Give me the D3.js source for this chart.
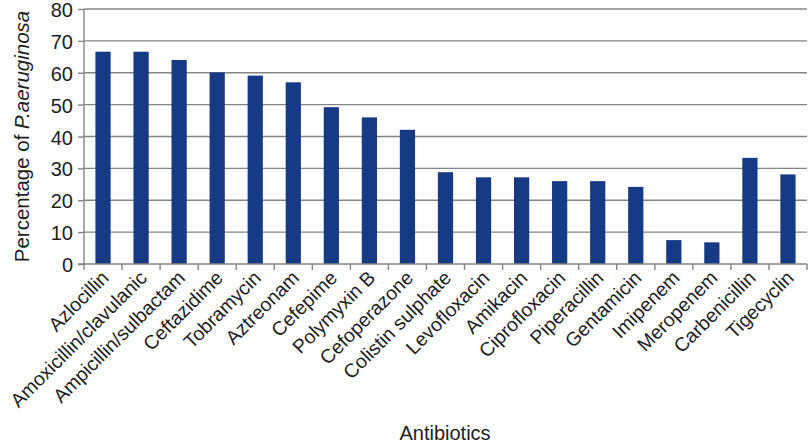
<!DOCTYPE html>
<html><head><meta charset="utf-8">
<script src="https://cdn.jsdelivr.net/npm/d3@7"></script>
<style>body{margin:0;background:#fff}svg{display:block}</style>
</head><body>
<script>
const categories = ["Azlocillin","Amoxicillin/clavulanic","Ampicillin/sulbactam","Ceftazidime","Tobramycin","Aztreonam","Cefepime","Polymyxin B","Cefoperazone","Colistin sulphate","Levofloxacin","Amikacin","Ciprofloxacin","Piperacillin","Gentamicin","Imipenem","Meropenem","Carbenicillin","Tigecyclin"];
const values = [66.6,66.6,64.0,60.1,59.1,57.0,49.2,46.0,42.1,28.8,27.2,27.2,26.0,26.0,24.2,7.5,6.8,33.3,28.1];
const yTicks = [0,10,20,30,40,50,60,70,80];

const W = 810, H = 446;
const m = {left:84, right:3, top:9, bottom:182};
const svg = d3.select("body").append("svg").attr("width",W).attr("height",H);
const x = d3.scaleBand().domain(categories).range([m.left, W-m.right]).paddingInner(0.6).paddingOuter(0.3);
const y = d3.scaleLinear().domain([0,80]).range([H-m.bottom, m.top]);
const font = "'Liberation Sans', Arial, sans-serif";
const ink = "#1e1e1e";
const gridC = "#858585";

// gridlines
svg.append("g").selectAll("line").data(yTicks.slice(1)).join("line")
  .attr("x1", m.left).attr("x2", W-m.right)
  .attr("y1", d=>y(d)).attr("y2", d=>y(d))
  .attr("stroke",gridC).attr("stroke-width",1.4);

// bars
svg.append("g").selectAll("rect").data(values).join("rect")
  .attr("x",(d,i)=>x(categories[i]))
  .attr("width", x.bandwidth())
  .attr("y", d=>y(d))
  .attr("height", d=>y(0)-y(d))
  .attr("fill","#173a85");

// y axis
const ya = svg.append("g").attr("transform",`translate(${m.left},0)`)
  .call(d3.axisLeft(y).tickValues(yTicks).tickSize(6).tickPadding(5));
ya.selectAll("path,line").attr("stroke",gridC).attr("stroke-width",1.4);
ya.select(".domain").attr("d", `M0,${y(80)}V${y(0)}`);
ya.selectAll("text").attr("font-family",font).attr("font-size",20).attr("fill",ink).attr("dy","0.38em");

// x axis
const step = x.step();
const bounds = d3.range(categories.length+1).map(i=>m.left + i*step);
svg.append("line").attr("x1",m.left-6).attr("x2",W-m.right).attr("y1",y(0)).attr("y2",y(0))
  .attr("stroke",gridC).attr("stroke-width",1.4);
svg.append("g").selectAll("line").data(bounds).join("line")
  .attr("x1",d=>d).attr("x2",d=>d).attr("y1",y(0)).attr("y2",y(0)+6)
  .attr("stroke",gridC).attr("stroke-width",1.4);

svg.append("g").selectAll("text").data(categories).join("text")
  .attr("transform", d=>`translate(${x(d)+x.bandwidth()/2+7},${y(0)+15}) rotate(-45)`)
  .attr("text-anchor","end")
  .attr("font-family",font).attr("font-size",19.5).attr("fill",ink)
  .text(d=>d);

// axis titles
const yt = svg.append("text")
  .attr("transform",`translate(29,${(y(0)+y(80))/2}) rotate(-90)`)
  .attr("text-anchor","middle").attr("font-family",font).attr("font-size",20.5).attr("fill",ink);
yt.append("tspan").text("Percentage of ");
yt.append("tspan").attr("font-style","italic").text("P.aeruginosa");

svg.append("text").attr("x",445).attr("y",440).attr("text-anchor","middle")
  .attr("font-family",font).attr("font-size",20).attr("fill",ink).text("Antibiotics");
</script>
</body></html>
